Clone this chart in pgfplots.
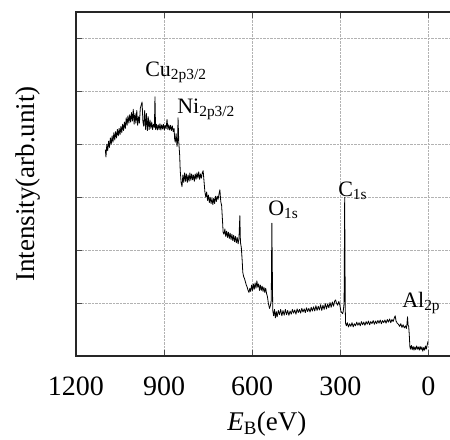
\documentclass[border=0pt]{standalone}
\usepackage{fontspec}
\setmainfont{Liberation Serif}
\usepackage{pgfplots}
\pgfplotsset{compat=1.18}

\begin{document}
\begin{tikzpicture}
\begin{axis}[
  scale only axis,
  width=378.8pt, height=344pt,
  x dir=reverse,
  xmin=-90, xmax=1200,
  ymin=0, ymax=6.5,
  xtick={0,300,600,900,1200},
  ytick={1,2,3,4,5,6},
  yticklabels={},
  ytick pos=left,
  major tick length=6pt,
  tick style={black!70, line width=0.8pt},
  axis line style={black!85, line width=1.1pt},
  grid=major,
  grid style={densely dotted, black!30, line width=0.5pt},
  /pgf/number format/assume math mode=true,
  /pgf/number format/set thousands separator={},
  ticklabel style={font=\fontsize{28}{28}\selectfont},
  xticklabel style={anchor=center, yshift=-30pt},
  label style={font=\fontsize{27}{30}\selectfont},
  xlabel={\textit{E}\textsubscript{B}(eV)},
  xlabel style={at={(axis description cs:0.504,0)}, anchor=center, yshift=-68pt},
  ylabel={Intensity(arb.unit)},
  ylabel style={at={(axis description cs:-0.1267,0.5)}, anchor=center},
]
\addplot[black, line width=0.8pt, line join=round] coordinates {
(1100,3.90)(1098,3.76)(1095,4.00)(1092,3.88)(1089,4.06)(1086,3.94)(1083,4.12)(1080,4.00)
(1077,4.16)(1074,4.04)(1071,4.22)(1068,4.08)(1065,4.24)(1062,4.12)(1059,4.28)(1056,4.16)
(1053,4.30)(1050,4.18)(1047,4.34)(1044,4.22)(1041,4.38)(1038,4.26)(1035,4.42)(1032,4.30)
(1029,4.50)(1026,4.36)(1023,4.54)(1020,4.40)(1017,4.56)(1014,4.42)(1011,4.60)(1008,4.44)
(1005,4.66)(1002,4.38)(999,4.58)(996,4.40)(993,4.64)(990,4.36)(987,4.52)(984,4.40)
(981,4.68)(978,4.74)(975,4.80)(972,4.42)(969,4.34)(966,4.64)(963,4.28)(960,4.58)
(957,4.26)(954,4.52)(951,4.28)(948,4.46)(945,4.30)(942,4.42)(939,4.28)(936,4.38)
(933,4.32)(931,4.90)(929,4.28)(926,4.38)(923,4.27)(920,4.37)(917,4.28)(914,4.39)
(911,4.27)(908,4.37)(905,4.29)(902,4.38)(899,4.27)(896,4.36)(893,4.30)(890,4.47)
(887,4.28)(884,4.37)(881,4.27)(878,4.36)(875,4.26)(872,4.35)(869,4.24)(866,4.30)
(864,4.10)(862,4.04)(859,4.20)(856,3.96)(854,4.06)(852.5,4.50)(850,4.05)(847,3.80)
(845,3.50)(842,3.28)(839,3.20)(836,3.42)(833,3.28)(830,3.46)(827,3.30)(824,3.44)
(821,3.28)(818,3.42)(815,3.30)(812,3.46)(809,3.32)(806,3.44)(803,3.33)(800,3.42)
(797,3.30)(794,3.44)(791,3.34)(788,3.46)(785,3.36)(782,3.48)(779,3.34)(776,3.44)
(773,3.36)(770,3.46)(767,3.50)(764,3.30)(761,3.10)(758,3.00)(755,3.10)(752,2.94)
(749,3.04)(746,2.90)(743,3.00)(740,2.88)(737,2.98)(734,2.86)(731,2.98)(728,2.88)
(725,3.02)(722,2.92)(719,3.02)(716,2.96)(713,3.06)(710,3.14)(707,2.92)(704,2.84)
(701,2.55)(699,2.34)(696,2.30)(693,2.40)(690,2.26)(687,2.36)(684,2.24)(681,2.34)
(678,2.22)(675,2.32)(672,2.20)(669,2.30)(666,2.18)(663,2.28)(660,2.16)(657,2.26)
(654,2.14)(651,2.24)(648,2.12)(645,2.22)(642,2.65)(640,2.15)(637,2.05)(634,1.80)
(632,1.58)(629,1.50)(626,1.46)(623,1.40)(620,1.34)(617,1.30)(614,1.24)(611,1.20)
(608,1.28)(605,1.22)(602,1.34)(599,1.24)(596,1.36)(593,1.26)(590,1.38)(587,1.28)
(584,1.42)(581,1.30)(578,1.36)(575,1.24)(572,1.34)(569,1.24)(566,1.32)(563,1.22)
(560,1.30)(557,1.20)(554,1.28)(551,1.18)(548,1.12)(545,1.00)(541,0.90)(538,0.95)
(535,1.05)(533,2.51)(530,0.86)(527,0.76)(524,0.88)(521,0.72)(518,0.84)(515,0.74)
(511,0.86)(507,0.78)(503,0.88)(499,0.76)(495,0.86)(491,0.77)(487,0.88)(483,0.78)
(479,0.86)(475,0.77)(471,0.85)(467,0.79)(463,0.88)(459,0.81)(455,0.87)(451,0.79)
(447,0.89)(443,0.82)(439,0.88)(435,0.81)(431,0.90)(427,0.83)(423,0.89)(419,0.82)
(415,0.91)(411,0.84)(407,0.90)(403,0.83)(399,0.92)(395,0.85)(391,0.93)(387,0.85)
(383,0.95)(379,0.86)(375,0.94)(371,0.87)(367,0.97)(363,0.86)(359,0.96)(355,0.88)
(351,0.99)(347,0.89)(343,0.98)(339,0.91)(335,1.01)(331,0.92)(327,1.02)(323,0.94)
(319,1.04)(316,1.06)(313,1.00)(309,0.96)(305,1.03)(301,0.95)(298,0.85)(295,0.82)
(292,0.80)(290,0.84)(287,1.00)(285,3.00)(283,0.90)(282,0.62)(279,0.57)(276,0.63)
(272,0.55)(268,0.61)(264,0.56)(260,0.63)(256,0.55)(252,0.61)(248,0.57)(244,0.64)
(240,0.58)(236,0.63)(232,0.57)(228,0.65)(224,0.59)(220,0.64)(216,0.58)(212,0.65)
(208,0.60)(204,0.66)(200,0.59)(196,0.65)(192,0.61)(188,0.67)(184,0.60)(180,0.66)
(176,0.61)(172,0.67)(168,0.62)(164,0.68)(160,0.61)(156,0.67)(152,0.63)(148,0.68)
(144,0.62)(140,0.69)(136,0.64)(132,0.70)(128,0.63)(124,0.69)(120,0.65)(116,0.72)
(113,0.76)(110,0.66)(106,0.62)(102,0.60)(98,0.56)(94,0.61)(90,0.54)(86,0.59)
(82,0.53)(78,0.57)(75,0.52)(73,0.60)(71,0.74)(69,0.58)(67,0.56)(65,0.40)
(63,0.18)(61,0.13)(58,0.20)(55,0.12)(52,0.18)(49,0.11)(46,0.17)(43,0.12)
(40,0.19)(37,0.13)(34,0.17)(31,0.11)(28,0.18)(25,0.12)(22,0.17)(19,0.09)
(16,0.16)(13,0.11)(10,0.19)(7,0.13)(4,0.21)(1,0.28)
};
\begin{scope}[every node/.style={anchor=base west, inner sep=0pt, font=\fontsize{22}{24}\selectfont}]
\node at (axis cs:964.6,5.28) {Cu\textsubscript{2p3/2}};
\node at (axis cs:855.6,4.58) {Ni\textsubscript{2p3/2}};
\node at (axis cs:545.8,2.66) {O\textsubscript{1s}};
\node at (axis cs:307.5,3.02) {C\textsubscript{1s}};
\node at (axis cs:89.5,0.91) {Al\textsubscript{2p}};
\end{scope}
\end{axis}
\pgfresetboundingbox
\path[use as bounding box] ([xshift=-76pt,yshift=-84pt]current axis.south west) rectangle ([xshift=374pt,yshift=12pt]current axis.north west);
\end{tikzpicture}
\end{document}
